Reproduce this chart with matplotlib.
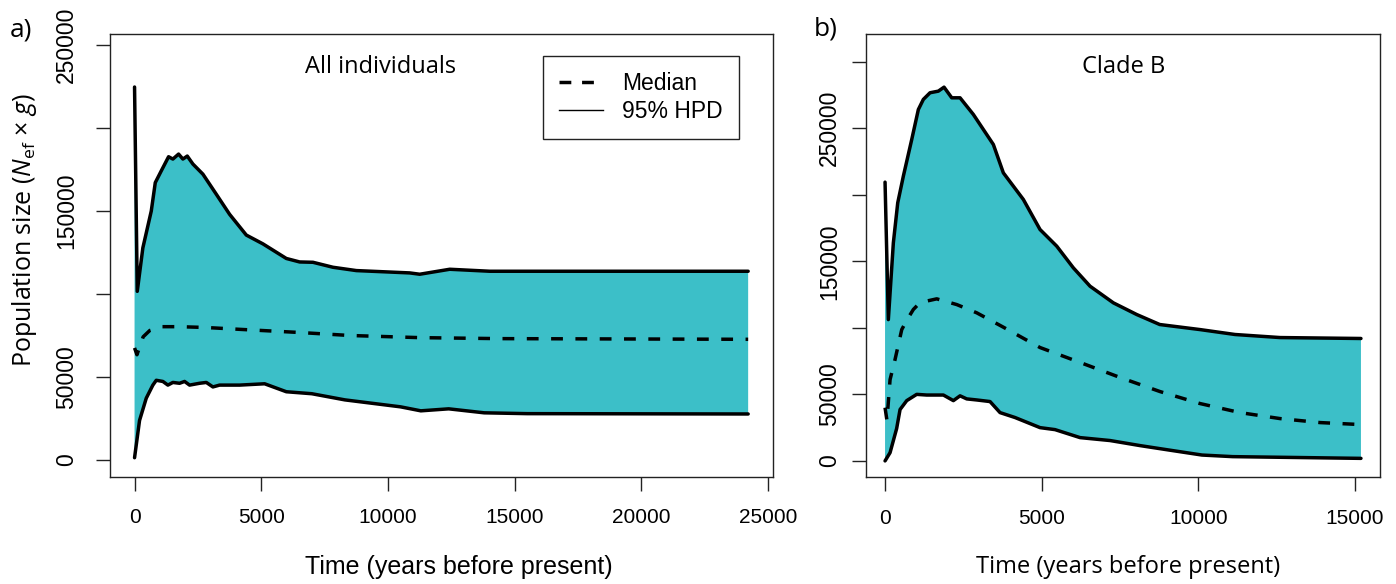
import matplotlib
matplotlib.use('Agg')
import matplotlib.pyplot as plt
from matplotlib.lines import Line2D

# ---------------- data ----------------
# Panel a) All individuals
a_upper_x = [0, 107, 328, 660, 818, 1055, 1343, 1513, 1738, 1908, 2081, 2303, 2698, 3227,
             3752, 4411, 5067, 5991, 6517, 7042, 7832, 8756, 10861, 11256, 12441, 14020, 24220]
a_upper_y = [224800, 101700, 127900, 150100, 167200, 174300, 182800, 181400, 184400, 181400,
             183200, 178400, 172300, 160200, 148100, 135600, 130300, 121500, 119400, 119200,
             116200, 114200, 112800, 112000, 115000, 113800, 113800]
a_lower_x = [0, 197, 462, 723, 857, 1118, 1316, 1513, 1777, 1975, 2172, 2567, 2832, 3093,
             3357, 4147, 5134, 5990, 7000, 8300, 10500, 11300, 12400, 13800, 15500, 24220]
a_lower_y = [1450, 23900, 37300, 45200, 48100, 47400, 45200, 46800, 46300, 47400, 45200,
             46300, 46800, 44100, 45200, 45200, 46000, 41200, 40000, 36300, 32100, 29700,
             30900, 28500, 28000, 27800]
a_median_x = [0, 95, 340, 600, 1100, 1775, 2830, 4150, 6517, 8490, 11256, 14415, 24220]
a_median_y = [67600, 63500, 74300, 78100, 80400, 80400, 79900, 78800, 76900, 75100, 73800,
              73200, 72800]

# Panel b) Clade B
b_upper_x = [0, 105, 265, 405, 584, 852, 1063, 1222, 1436, 1701, 1883, 2129, 2394, 2818,
             3457, 3776, 4414, 4947, 5480, 6010, 6543, 7287, 8034, 8768, 10054, 11171, 12608, 15190]
b_upper_y = [209500, 106200, 163900, 194000, 214000, 241600, 264100, 271700, 276700, 277900,
             280900, 272900, 272900, 260400, 237800, 216500, 196500, 173900, 161400, 145100,
             131300, 118800, 110000, 102500, 98700, 95000, 92700, 92000]
b_lower_x = [0, 160, 370, 479, 692, 1010, 1330, 1862, 2181, 2394, 2607, 2926, 3351, 3670,
             4149, 4947, 5426, 6224, 7182, 8139, 9023, 10115, 11096, 15190]
b_lower_y = [0, 6200, 24300, 38600, 45300, 50000, 49500, 49500, 45300, 48900, 46600, 45800,
             44600, 36300, 32600, 25000, 23500, 17500, 15300, 11500, 8300, 4400, 3200, 1900]
b_median_x = [0, 60, 160, 319, 533, 700, 903, 1117, 1649, 2288, 2926, 3776, 4947, 6224,
              7501, 8778, 10054, 11331, 12608, 13884, 15190]
b_median_y = [40000, 30500, 61100, 76200, 98700, 106000, 113800, 119000, 121800, 117500,
              111300, 100500, 85200, 74000, 62700, 52100, 43100, 36300, 31800, 28800, 27300]

a_xticks = [0, 5000, 10000, 15000, 20000, 25000]
a_yticks = [0, 50000, 100000, 150000, 200000, 250000]
a_ylabels = ['0', '50000', '', '150000', '', '250000']
b_xticks = [0, 5000, 10000, 15000]
b_yticks = [0, 50000, 100000, 150000, 200000, 250000, 300000]
b_ylabels = ['0', '50000', '', '150000', '', '250000', '']

title_a = 'All individuals'
title_b = 'Clade B'
xlabel = 'Time (years before present)'
ylabel = r'Population size ($\mathit{N}_{\mathrm{ef}}$ × $\mathit{g}$)'
legend_labels = ['Median', '95% HPD']

# ---------------- style ----------------
plt.rcParams['mathtext.fontset'] = 'custom'
plt.rcParams['mathtext.rm'] = 'Open Sans'
plt.rcParams['mathtext.it'] = 'Open Sans:italic'
plt.rcParams['mathtext.bf'] = 'Open Sans:bold'

FILL = '#3CBFC8'
SANS = 'Liberation Sans'
HUMAN = 'Open Sans'
LW = 2.5
DASH = (0, (3.4, 3.6))

W, H = 1396, 584
fig = plt.figure(figsize=(W / 100, H / 100), dpi=100)


def axes_px(left, top, right, bottom):
    return fig.add_axes([left / W, 1 - bottom / H, (right - left) / W, (bottom - top) / H])


axa = axes_px(110, 34.3, 772.7, 476.5)
axb = axes_px(866, 34.3, 1380, 477.3)


def panel(ax, ux, uy, lx, ly, mx, my, xlim, ylim, xt, yt, yl, ypad):
    ax.fill(list(ux) + list(lx[::-1]), list(uy) + list(ly[::-1]),
            color=FILL, lw=0, zorder=1)
    ax.plot(ux, uy, color='k', lw=LW, solid_joinstyle='round', solid_capstyle='round', zorder=3)
    ax.plot(lx, ly, color='k', lw=LW, solid_joinstyle='round', solid_capstyle='round', zorder=3)
    ax.plot(mx, my, color='k', lw=LW, linestyle=DASH, zorder=3)
    ax.set_xlim(*xlim)
    ax.set_ylim(*ylim)
    ax.set_xticks(xt)
    ax.set_xticklabels([str(v) for v in xt], family=SANS, fontsize=15)
    ax.set_yticks(yt)
    ax.set_yticklabels(yl, rotation=90, va='center', family=SANS, fontsize=16.5)
    ax.tick_params(direction='out', length=10, width=1, colors='#222222', labelcolor='black')
    ax.tick_params(axis='x', pad=13)
    ax.tick_params(axis='y', pad=ypad)
    for s in ax.spines.values():
        s.set_linewidth(1.0)
        s.set_color('#222222')


panel(axa, a_upper_x, a_upper_y, a_lower_x, a_lower_y, a_median_x, a_median_y,
      (-969, 25189), (-9870, 256570), a_xticks, a_yticks, a_ylabels, 13)
panel(axb, b_upper_x, b_upper_y, b_lower_x, b_lower_y, b_median_x, b_median_y,
      (-608, 15798), (-12330, 320630), b_xticks, b_yticks, b_ylabels, 8)

# titles inside panels
axa.text((305 - 110) / 662.7, (476.5 - 73) / 442.2, title_a, transform=axa.transAxes,
         ha='left', va='baseline', fontsize=17, family=HUMAN)
axb.text((1081.7 - 866) / 514, (477.3 - 73.3) / 443, title_b, transform=axb.transAxes,
         ha='left', va='baseline', fontsize=17, family=HUMAN)

# legend
handles = [Line2D([], [], color='k', lw=LW, linestyle=(0, (3.4, 3.1))),
           Line2D([], [], color='k', lw=1.0)]
leg = axa.legend(handles, legend_labels, loc='upper left',
                 bbox_to_anchor=((543 - 110) / 662.7, (476.5 - 55.7) / 442.2),
                 borderaxespad=0, borderpad=0.7, labelspacing=0.22, handlelength=1.9,
                 handletextpad=0.85, fancybox=False, framealpha=1,
                 prop={'family': SANS, 'size': 16.5})
leg.get_frame().set_edgecolor('#222222')
leg.get_frame().set_linewidth(1.0)

# axis labels
fig.text(459 / W, 1 - 567 / H, xlabel, ha='center', va='center', fontsize=18, family=SANS)
fig.text(1128 / W, 1 - 567 / H, xlabel, ha='center', va='center', fontsize=17, family=HUMAN)
fig.text(25 / W, 1 - 230 / H, ylabel, ha='center', va='center', rotation=90,
         fontsize=18, family=HUMAN)

# panel letters
fig.text(21 / W, 1 - 30 / H, 'a)', ha='center', va='center', fontsize=19, family=HUMAN)
fig.text(826 / W, 1 - 29 / H, 'b)', ha='center', va='center', fontsize=19, family=HUMAN)

fig.savefig('out.png', dpi=100)
